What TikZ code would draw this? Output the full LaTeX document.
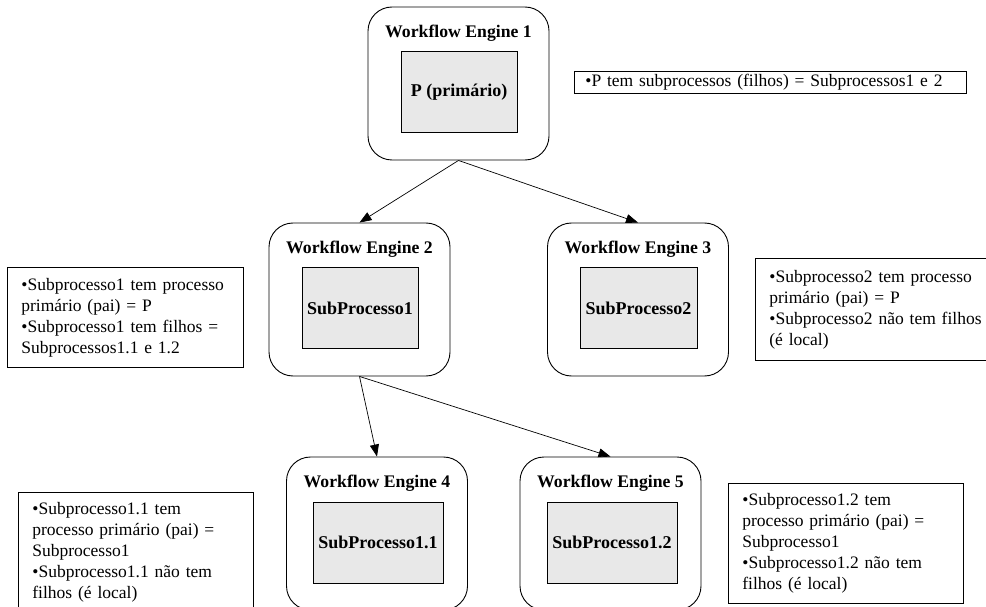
\documentclass[tikz,border=0pt]{standalone}
\usepackage{fontspec}
\setmainfont{Liberation Serif}
\usetikzlibrary{arrows.meta}
\definecolor{procfill}{HTML}{E8E8E8}
\begin{document}
\begin{tikzpicture}[x=1pt,y=-1pt,
  engine/.style={draw,rounded corners=24pt,line width=0.9pt,minimum width=181pt,minimum height=153pt,inner sep=0pt},
  enginetitle/.style={font=\bfseries\fontsize{17.7}{20}\selectfont,inner sep=0pt},
  proc/.style={draw,fill=procfill,line width=0.8pt,minimum height=81pt,inner sep=0pt,font=\bfseries\fontsize{18}{20}\selectfont},
  note/.style={draw,line width=0.8pt,anchor=north west,align=left,inner xsep=14pt,inner ysep=0pt,font=\fontsize{17.5}{21}\selectfont},
  link/.style={-{Triangle[length=12pt,width=9pt]},line width=0.7pt}]
\clip (0,0) rectangle (986,607);
\useasboundingbox (0,0) rectangle (986,607);

% engines (outer rounded boxes)
\node[engine] (e1) at (458.5,83.5) {};
\node[engine] (e2) at (359.5,299.5) {};
\node[engine] (e3) at (638,299.5) {};
\node[engine] (e4) at (377,533.5) {};
\node[engine] (e5) at (610.5,533.5) {};

% engine titles
\node[enginetitle] (t1) at (458.5,33.5) {Workflow Engine 1};
\node[enginetitle] (t2) at (359.5,249.5) {Workflow Engine 2};
\node[enginetitle] (t3) at (638,249.5) {Workflow Engine 3};
\node[enginetitle] (t4) at (377,483.5) {Workflow Engine 4};
\node[enginetitle] (t5) at (610.5,483.5) {Workflow Engine 5};

% processes inside the engines
\node[proc,minimum width=116pt] (p1) at (459,92) {P (primário)};
\node[proc,minimum width=116pt] (p2) at (360,308) {SubProcesso1};
\node[proc,minimum width=117pt] (p3) at (638.5,308) {SubProcesso2};
\node[proc,minimum width=130pt] (p4) at (378,542.5) {SubProcesso1.1};
\node[proc,minimum width=130pt] (p5) at (612,542.5) {SubProcesso1.2};

% parent -> child links
\draw[link] (e1.south) -- (e2.north);
\draw[link] (e1.south) -- (e3.north);
\draw[link] (e2.south) -- (e4.north);
\draw[link] (e2.south) -- (e5.north);

% notes
\node[note,text width=370pt,inner xsep=11pt,minimum height=22pt] (n1) at (574,71)
  {•P tem subprocessos (filhos) = Subprocessos1 e 2};
\node[note,text width=208pt,minimum height=100pt] (n2) at (7,267)
  {•Subprocesso1 tem processo\\primário (pai) = P\\•Subprocesso1 tem filhos =\\Subprocessos1.1 e 1.2};
\node[note,text width=240pt,minimum height=102pt] (n3) at (755,258)
  {•Subprocesso2 tem processo\\primário (pai) = P\\•Subprocesso2 não tem filhos\\(é local)};
\node[note,text width=207pt,minimum height=120pt] (n4) at (18,492)
  {•Subprocesso1.1 tem\\processo primário (pai) =\\Subprocesso1\\•Subprocesso1.1 não tem\\filhos (é local)};
\node[note,text width=207pt,minimum height=120pt] (n5) at (728,483)
  {•Subprocesso1.2 tem\\processo primário (pai) =\\Subprocesso1\\•Subprocesso1.2 não tem\\filhos (é local)};
\end{tikzpicture}
\end{document}
